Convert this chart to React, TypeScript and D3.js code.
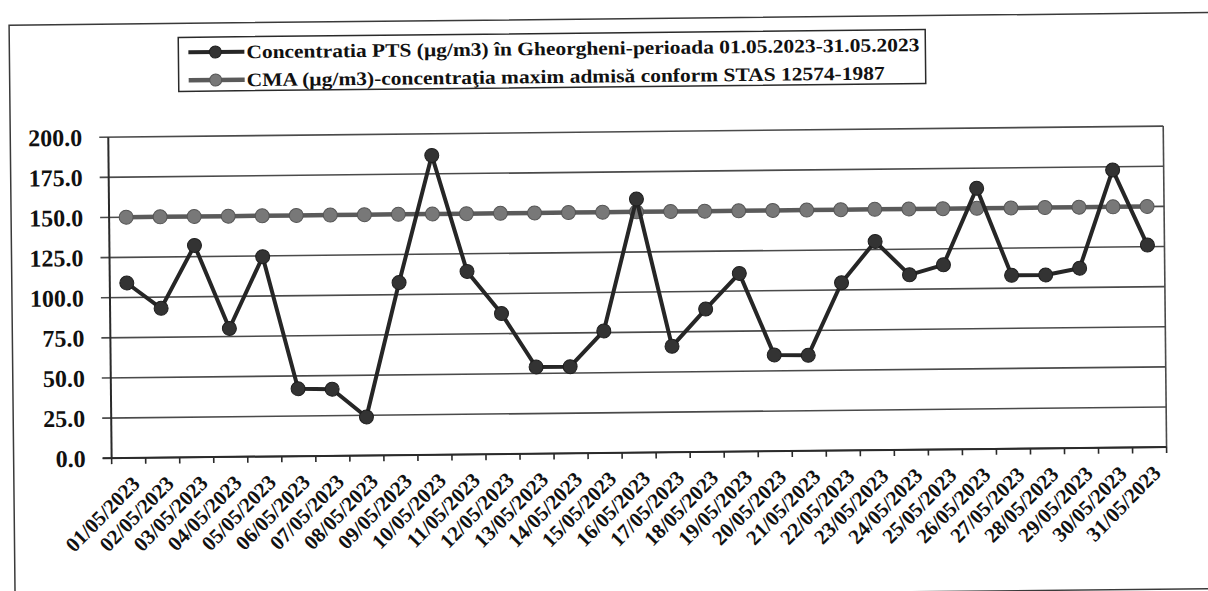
import React from "react";
import * as d3 from "d3";

const dates = [
  "01/05/2023", "02/05/2023", "03/05/2023", "04/05/2023", "05/05/2023", "06/05/2023",
  "07/05/2023", "08/05/2023", "09/05/2023", "10/05/2023", "11/05/2023", "12/05/2023",
  "13/05/2023", "14/05/2023", "15/05/2023", "16/05/2023", "17/05/2023", "18/05/2023",
  "19/05/2023", "20/05/2023", "21/05/2023", "22/05/2023", "23/05/2023", "24/05/2023",
  "25/05/2023", "26/05/2023", "27/05/2023", "28/05/2023", "29/05/2023", "30/05/2023",
  "31/05/2023",
];

const ptsValues = [
  109, 93, 132, 80, 124.5, 42, 41.5, 24, 107.5, 186.5, 114, 87.5, 54, 54, 76, 158,
  66, 89, 111, 60, 59.5, 104.5, 130, 109, 115, 162.5, 108, 108, 112, 173, 126,
];

const cmaValues = [
  150, 150, 150, 150, 150, 150, 150, 150, 150, 150, 150, 150, 150, 150, 150, 150,
  150, 150, 150, 150, 150, 150, 150, 150, 150, 150, 150, 150, 150, 150, 150,
];

const yTicks = [0, 25, 50, 75, 100, 125, 150, 175, 200];

const legendLabels = [
  "Concentratia PTS (µg/m3) în Gheorgheni-perioada 01.05.2023-31.05.2023",
  "CMA (µg/m3)-concentraţia maxim admisă conform STAS 12574-1987",
];

const W = 1208;
const H = 591;
const plot = { left: 110, right: 1165, top: 132, bottom: 453 };

export default function App() {
  const ref = React.useRef<SVGSVGElement>(null);

  const x = d3
    .scaleBand<string>()
    .domain(dates)
    .range([plot.left, plot.right])
    .padding(0);
  const y = d3.scaleLinear().domain([0, 200]).range([plot.bottom, plot.top]);
  const cx = (d: string) => (x(d) as number) + x.bandwidth() / 2;

  React.useEffect(() => {
    if (!ref.current) return;
    d3.select(ref.current)
      .selectAll("text")
      .attr("font-family", "Liberation Serif")
      .style("font-family", '"Liberation Serif"')
      .attr("font-weight", "bold");
  }, []);

  const line = d3
    .line<number>()
    .x((_, i) => cx(dates[i]))
    .y((v) => y(v));

  const ptsColor = "#262626";
  const cmaLine = "#5a5a5a";
  const cmaFill = "#787878";
  const gridColor = "#4a4a4a";

  return (
    <svg
      ref={ref}
      width={W}
      height={H}
      style={{ position: "absolute", left: 0, top: 0, background: "#fff" }}
    >
      <rect x={0} y={0} width={W} height={H} fill="#fff" />
      <g transform="rotate(-0.6 600 300)" fontFamily="Liberation Serif">
        <rect x={12} y={19} width={1205} height={576} fill="none" stroke="#3a3a3a" strokeWidth={1.5} />

        <rect x={181} y={33} width={747} height={54} fill="#fff" stroke="#2a2a2a" strokeWidth={1.5} />
        {legendLabels.map((lab, i) => {
          const ly = 48 + i * 28;
          const isPts = i === 0;
          return (
            <g key={lab}>
              <line x1={191} x2={247} y1={ly} y2={ly} stroke={isPts ? ptsColor : cmaLine} strokeWidth={isPts ? 4 : 4.5} />
              <circle cx={218} cy={ly} r={6} fill={isPts ? "#333" : cmaFill} stroke={isPts ? "#1e1e1e" : "#555"} strokeWidth={1} />
              <text
                x={249}
                y={ly + 6.5}
                fontSize={19}
                fill="#111"
                textLength={isPts ? 673 : 638}
                lengthAdjust="spacingAndGlyphs"
              >
                {lab}
              </text>
            </g>
          );
        })}

        {yTicks.map((t) => (
          <line key={"g" + t} x1={plot.left - 9} x2={plot.right} y1={y(t)} y2={y(t)} stroke={gridColor} strokeWidth={1.6} />
        ))}
        <line x1={plot.left} x2={plot.left} y1={plot.top} y2={plot.bottom} stroke="#2a2a2a" strokeWidth={2} />
        <line x1={plot.right} x2={plot.right} y1={plot.top} y2={plot.bottom} stroke="#4a4a4a" strokeWidth={1.6} />
        <line x1={plot.left - 9} x2={plot.right} y1={plot.bottom} y2={plot.bottom} stroke="#2a2a2a" strokeWidth={2} />
        {dates.map((d) => (
          <line
            key={"t" + d}
            x1={(x(d) as number) + x.bandwidth()}
            x2={(x(d) as number) + x.bandwidth()}
            y1={plot.bottom}
            y2={plot.bottom + 6}
            stroke="#2a2a2a"
            strokeWidth={1.6}
          />
        ))}
        <line x1={plot.left} x2={plot.left} y1={plot.bottom} y2={plot.bottom + 6} stroke="#2a2a2a" strokeWidth={1.6} />

        {yTicks.map((t) => (
          <text
            key={"yl" + t}
            x={84}
            y={y(t)}
            dy="0.35em"
            textAnchor="end"
            fontSize={24}
            fill="#111"
          >
            {d3.format(".1f")(t)}
          </text>
        ))}

        {dates.map((d) => (
          <text
            key={"xl" + d}
            transform={`translate(${cx(d) + 7},${plot.bottom + 22}) rotate(-45)`}
            textAnchor="end"
            dy="0.35em"
            fontSize={21}
            fill="#111"
          >
            {d}
          </text>
        ))}

        <path d={line(cmaValues) || ""} fill="none" stroke={cmaLine} strokeWidth={4.5} />
        {cmaValues.map((v, i) => (
          <circle key={"c" + i} cx={cx(dates[i])} cy={y(v)} r={7} fill={cmaFill} stroke="#555" strokeWidth={1} />
        ))}

        <path d={line(ptsValues) || ""} fill="none" stroke={ptsColor} strokeWidth={4} strokeLinejoin="round" />
        {ptsValues.map((v, i) => (
          <circle key={"p" + i} cx={cx(dates[i])} cy={y(v)} r={7} fill="#333" stroke="#1e1e1e" strokeWidth={1} />
        ))}
      </g>
    </svg>
  );
}
